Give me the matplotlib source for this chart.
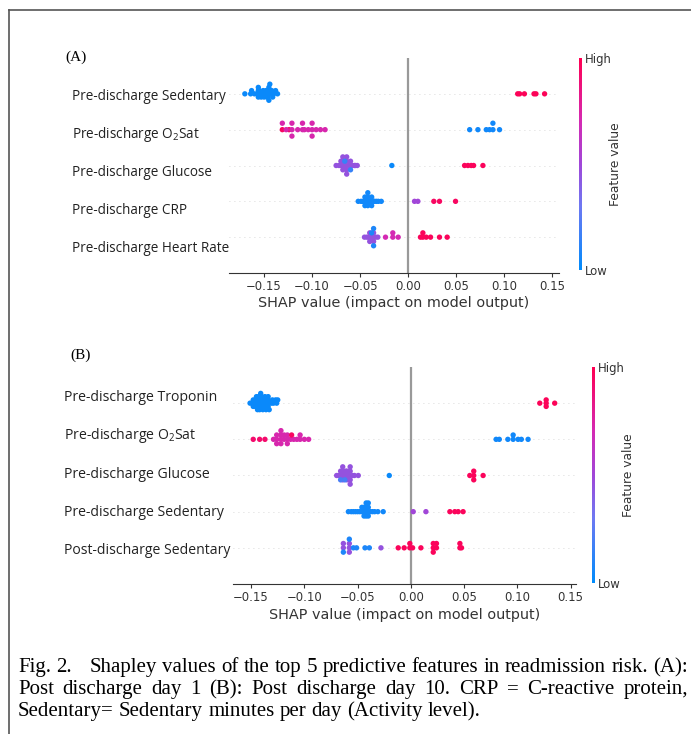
import numpy as np
import matplotlib
matplotlib.use("Agg")
import matplotlib.pyplot as plt
from matplotlib.colors import LinearSegmentedColormap, Normalize
from matplotlib.lines import Line2D

W, H = 691, 734

plt.rcParams["mathtext.fontset"] = "custom"
plt.rcParams["mathtext.rm"] = "Open Sans"
plt.rcParams["mathtext.it"] = "Open Sans:italic"

# ---- data: each row is a list of (feature value, [shap values]) groups ----
a_features = ["Pre-discharge Sedentary", "Pre-discharge O$_2$Sat", "Pre-discharge Glucose",
              "Pre-discharge CRP", "Pre-discharge Heart Rate"]
a_sedentary = [(0.03, [-0.170, -0.164, -0.163, -0.160, -0.157, -0.156, -0.156, -0.156, -0.155, -0.155,
                       -0.153, -0.152, -0.151, -0.150, -0.149, -0.148, -0.147, -0.146, -0.146, -0.146,
                       -0.145, -0.145, -0.144, -0.143, -0.142, -0.141, -0.140, -0.138, -0.136]),
               (0.98, [0.114, 0.116, 0.121, 0.131, 0.133, 0.142])]
a_o2sat = [(0.05, [0.064, 0.0726, 0.0813, 0.0847, 0.0882, 0.0882, 0.0951]),
           (0.95, [-0.131, -0.124]),
           (0.72, [-0.131, -0.127, -0.121, -0.121, -0.121, -0.115, -0.110, -0.110, -0.108, -0.104,
                   -0.100, -0.100, -0.100, -0.0958, -0.0913, -0.0865])]
a_glucose = [(0.45, [-0.075, -0.072, -0.070, -0.070, -0.068, -0.068, -0.068, -0.068, -0.066, -0.065,
                     -0.064, -0.064, -0.064, -0.064, -0.062, -0.060, -0.060, -0.058, -0.056, -0.055, -0.053]),
             (0.15, [-0.066, -0.060]),
             (0.03, [-0.017]),
             (0.97, [0.0587, 0.0622, 0.0656, 0.0681, 0.0778])]
a_crp = [(0.05, [-0.052, -0.049, -0.047, -0.046, -0.045, -0.045, -0.045, -0.044, -0.043, -0.042, -0.042,
                 -0.042, -0.042, -0.040, -0.039, -0.038, -0.038, -0.038, -0.036, -0.035, -0.033, -0.031, -0.028]),
         (0.5, [0.0066, 0.0101]),
         (0.95, [0.0267, 0.0326, 0.0493])]
a_heart = [(0.45, [-0.0455, -0.043, -0.041, -0.040, -0.040, -0.040, -0.038, -0.037, -0.036, -0.036,
                   -0.036, -0.034, -0.0316]),
           (0.08, [-0.038, -0.036, -0.036]),
           (0.7, [-0.0236, -0.016, -0.016, -0.0104]),
           (0.97, [0.0128, 0.0153, 0.0153, 0.0188, 0.0233, 0.0326, 0.0406])]
a_rows = [a_sedentary, a_o2sat, a_glucose, a_crp, a_heart]

b_features = ["Pre-discharge Troponin", "Pre-discharge O$_2$Sat", "Pre-discharge Glucose",
              "Pre-discharge Sedentary", "Post-discharge Sedentary"]
b_troponin = [(0.03, [-0.151, -0.149, -0.148, -0.148, -0.146, -0.146, -0.146, -0.145, -0.144, -0.143,
                      -0.143, -0.143, -0.143, -0.142, -0.141, -0.140, -0.140, -0.140, -0.140, -0.139,
                      -0.138, -0.137, -0.137, -0.137, -0.136, -0.135, -0.134, -0.134, -0.134, -0.133,
                      -0.131, -0.130, -0.129, -0.127, -0.126, -0.125]),
              (0.98, [0.121, 0.127, 0.127, 0.127, 0.135])]
b_o2sat = [(0.92, [-0.148, -0.142, -0.137]),
           (0.72, [-0.129, -0.126, -0.126, -0.126, -0.122, -0.122, -0.122, -0.122, -0.119, -0.119,
                   -0.116, -0.116, -0.116, -0.113, -0.110, -0.107, -0.104, -0.104, -0.100, -0.096]),
           (0.95, [-0.112]),
           (0.05, [0.080, 0.083, 0.091, 0.096, 0.096, 0.1006, 0.1037, 0.110])]
b_glucose = [(0.45, [-0.0697, -0.068, -0.066, -0.066, -0.064, -0.064, -0.064, -0.064, -0.062, -0.061,
                     -0.060, -0.060, -0.060, -0.058, -0.057, -0.057, -0.057, -0.057, -0.055, -0.053, -0.0494]),
             (0.2, [-0.066, -0.062]),
             (0.03, [-0.0203]),
             (0.97, [0.0553, 0.059, 0.059, 0.059, 0.0678])]
b_sedentary = [(0.05, [-0.0587, -0.056, -0.054, -0.052, -0.050, -0.048, -0.046, -0.046, -0.044, -0.044,
                       -0.044, -0.042, -0.042, -0.042, -0.042, -0.040, -0.040, -0.040, -0.040, -0.038,
                       -0.036, -0.034, -0.031, -0.026]),
               (0.5, [0.0022, 0.0141]),
               (0.97, [0.0366, 0.0412, 0.0444, 0.049])]
b_post_sed = [(0.45, [-0.0634, -0.0634, -0.0578, -0.0578, -0.0578, -0.0281]),
              (0.08, [-0.0634, -0.0578, -0.054, -0.051, -0.0431, -0.039]),
              (0.97, [-0.0119, -0.0063, -0.001, -0.001, 0.0016, 0.0094, 0.021, 0.021, 0.021,
                      0.024, 0.024, 0.046, 0.046, 0.0475])]
b_rows = [b_troponin, b_o2sat, b_glucose, b_sedentary, b_post_sed]

x_ticks = [-0.15, -0.10, -0.05, 0.00, 0.05, 0.10, 0.15]

caption = ["Fig. 2.|Shapley values of the top 5 predictive features in readmission risk. (A):",
           "Post discharge day 1 (B): Post discharge day 10. CRP = C-reactive protein,",
           "Sedentary= Sedentary minutes per day (Activity level)."]

cmap = LinearSegmentedColormap.from_list("red_blue", [
    (0.0, "#008bfb"), (0.3, "#6e78f2"), (0.5, "#a046d8"), (0.7, "#d42ab4"), (1.0, "#ff0052")])


def swarm(vals, row_height=0.4, nbins=100):
    vals = np.asarray(vals)
    quant = np.round(nbins * (vals - vals.min()) / (vals.max() - vals.min() + 1e-8))
    inds = np.argsort(quant, kind="stable")
    ys = np.zeros(len(vals))
    layer, last = 0, -1
    for i in inds:
        if quant[i] != last:
            layer = 0
        ys[i] = np.ceil(layer / 2) * ((layer % 2) * 2 - 1)
        layer += 1
        last = quant[i]
    ys *= 0.9 * (row_height / np.max(ys + 1))
    return ys


def px_box(x0, y0, x1, y1):
    return [x0 / W, 1 - y1 / H, (x1 - x0) / W, (y1 - y0) / H]


fig = plt.figure(figsize=(W / 100, H / 100), dpi=100)
fig.patch.set_facecolor("white")

# frame lines
fig.add_artist(Line2D([9 / W, 1.0], [1 - 10 / H, 1 - 10 / H], color="#555555", lw=1.2))
fig.add_artist(Line2D([9 / W, 9 / W], [0.0, 1 - 10 / H], color="#555555", lw=1.2))


def panel(box, xlim, rows, features, cbox, lab_x, lab_y0, lab_dy, lab_size, tag, tag_xy, xlabpad):
    ax = fig.add_axes(px_box(*box))
    n = len(rows)
    for i, groups in enumerate(rows):
        pos = n - 1 - i
        vals = np.concatenate([g[1] for g in groups])
        feat = np.concatenate([[g[0]] * len(g[1]) for g in groups])
        ys = swarm(vals)
        ax.axhline(pos, color="#cccccc", lw=0.6, dashes=(1, 5), zorder=-1)
        ax.scatter(vals, pos + ys, c=feat, cmap=cmap, vmin=0, vmax=1, s=15, linewidths=0, zorder=3)
    ax.axvline(0, color="#999999", lw=1.6, zorder=-1)
    ax.set_xlim(*xlim)
    ax.set_ylim(-1, n)
    ax.set_yticks([])
    for s in ["top", "right", "left"]:
        ax.spines[s].set_visible(False)
    ax.spines["bottom"].set_color("#333333")
    ax.set_xticks(x_ticks)
    ax.set_xticklabels(["\u22120.15", "\u22120.10", "\u22120.05", "0.00", "0.05", "0.10", "0.15"])
    ax.tick_params(axis="x", labelsize=8.4, colors="#333333", length=3, pad=2)
    ax.set_xlabel("SHAP value (impact on model output)", fontsize=10.4, color="#333333", labelpad=xlabpad)

    for i, name in enumerate(features):
        fig.text(lab_x / W, 1 - (lab_y0 + i * lab_dy) / H, name, fontsize=lab_size,
                 family="Open Sans", color="#222222", ha="left", va="center")
    fig.text(tag_xy[0] / W, 1 - tag_xy[1] / H, tag, fontsize=11, family="Liberation Serif",
             ha="left", va="center")

    cax = fig.add_axes(px_box(*cbox))
    sm = plt.cm.ScalarMappable(cmap=cmap, norm=Normalize(0, 1))
    cb = fig.colorbar(sm, cax=cax, ticks=[0, 1])
    cb.set_ticklabels(["Low", "High"])
    cb.ax.tick_params(labelsize=8.4, length=0, labelcolor="#333333", pad=2)
    cb.set_label("Feature value", size=8.8, color="#333333", labelpad=-2)
    cb.outline.set_visible(False)
    return ax


panel((229, 58, 559, 273), (-0.1865, 0.157), a_rows, a_features, (579, 58, 582, 270),
      72, 97, 37.75, 9.75, "(A)", (65, 57), 2)
panel((233, 367, 576, 584), (-0.167, 0.155), b_rows, b_features, (592, 367, 595, 583),
      64, 397, 38.5, 10.1, "(B)", (70, 355), 3)

# justified serif caption
renderer = fig.canvas.get_renderer()
x_left, x_right = 18, 688
fs = 15.0
space = fig.text(0, 0, "a a", fontsize=fs, family="Liberation Serif")
aa = fig.text(0, 0, "aa", fontsize=fs, family="Liberation Serif")
space_w = space.get_window_extent(renderer).width - aa.get_window_extent(renderer).width
space.remove()
aa.remove()
for li, line in enumerate(caption):
    y = 1 - (672 + li * 22) / H
    segs = line.split("|")
    words = []
    extra = []
    for si, seg in enumerate(segs):
        ws = seg.split()
        words += ws
        extra += [0] * (len(ws) - 1) + ([12] if si < len(segs) - 1 else [0])
    texts = [fig.text(0, y, w, fontsize=fs, family="Liberation Serif", va="baseline", ha="left")
             for w in words]
    widths = [t.get_window_extent(renderer).width for t in texts]
    if li < len(caption) - 1:
        gap = (x_right - x_left - sum(widths) - sum(extra)) / (len(words) - 1)
    else:
        gap = space_w
    x = x_left
    for t, w, e in zip(texts, widths, extra):
        t.set_x(x / W)
        x += w + gap + e

fig.savefig("out.png", dpi=100)
